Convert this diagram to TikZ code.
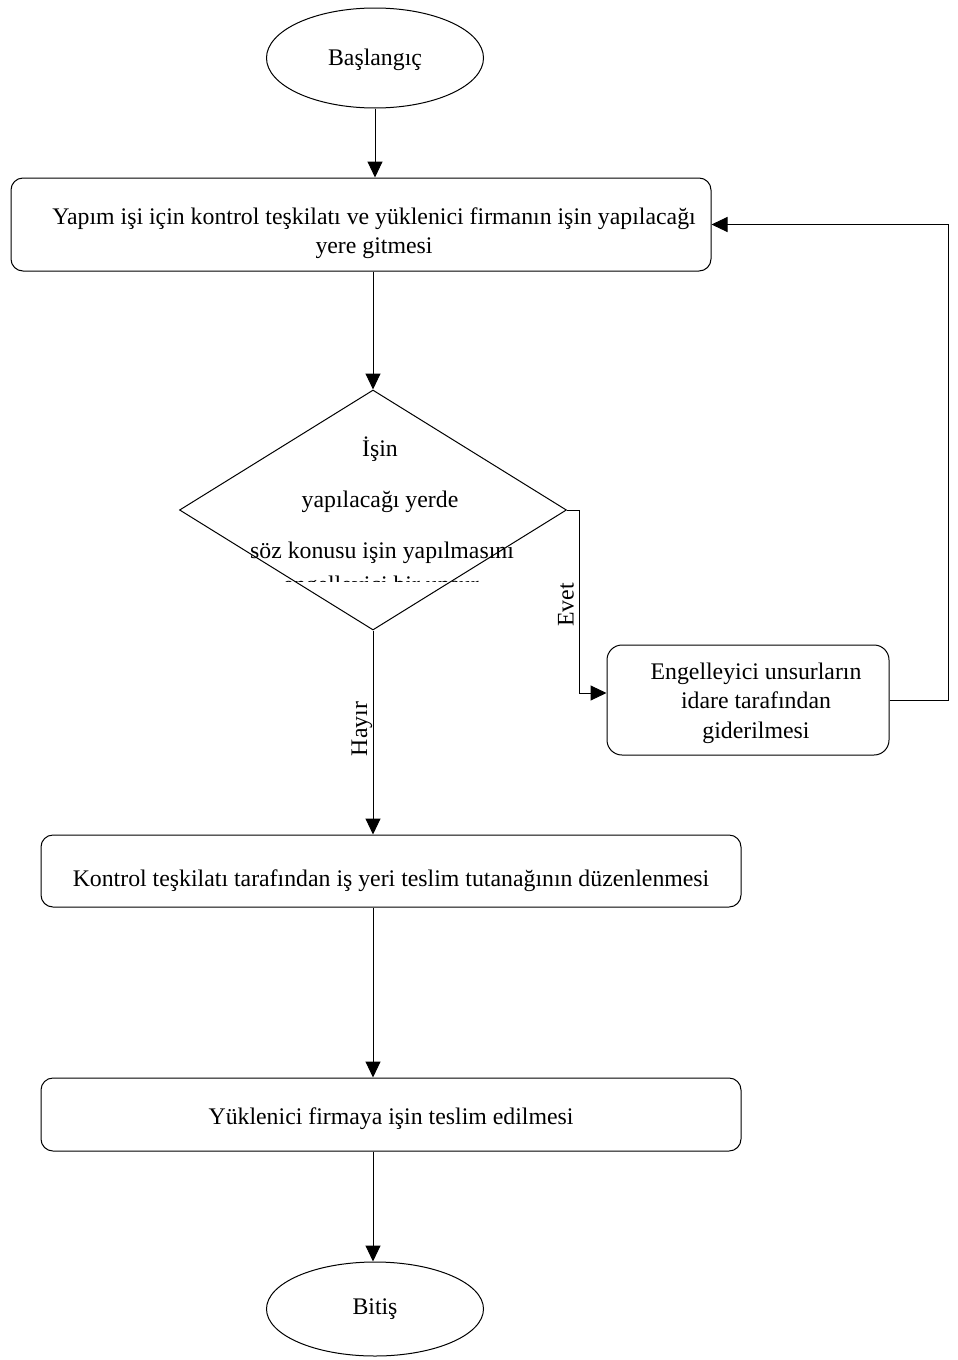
\documentclass[tikz,border=0pt]{standalone}
\usepackage{fontspec}
\setmainfont{Liberation Serif}
\usetikzlibrary{arrows.meta,shapes.geometric}

% metni kutu içinde biraz aşağı kaydırmak için
\newcommand{\asagi}[2]{\raisebox{-#1}[\height][\depth]{\begin{tabular}{@{}c@{}}#2\end{tabular}}}

\tikzset{
  akis/.style={draw, line width=1pt, -{Triangle[length=16pt,width=15pt]}},
  kutu/.style={draw, line width=1pt, rounded corners=12pt, inner sep=0pt},
  uc/.style={draw, ellipse, line width=1pt, minimum width=217pt, inner sep=0pt},
  karar/.style={draw, diamond, line width=1pt, minimum width=387pt, minimum height=240pt, inner sep=0pt},
  yazi/.style={inner sep=0pt}
}

\begin{document}
\begin{tikzpicture}[x=1pt, y=-1pt, font=\fontsize{23.8}{28.5}\selectfont]
	\useasboundingbox (0,0) rectangle (958,1360);

	% başlangıç ve ilk adım
	\node[uc, minimum height=100pt] (bas) at (375,58) {\asagi{2pt}{Başlangıç}};
	\node[kutu, minimum width=700pt, minimum height=93pt] (gitme) at (361,224.5)
		{\hspace*{26pt}\asagi{9pt}{Yapım işi için kontrol teşkilatı ve yüklenici firmanın işin yapılacağı\\yere gitmesi}};

	% karar
	\node[karar] (soru) at (373,510) {};
	\node[yazi] (s1) at (380,449) {İşin};
	\node[yazi] (s2) at (380,502) {yapılacağı yerde};
	\node[yazi] (s3) at (382,553) {söz konusu işin yapılmasını};
	\begin{scope}
		\clip (230,561) rectangle (540,581.5);
		\node[yazi, anchor=base] (s4) at (381,592) {engelleyici bir unsur};
	\end{scope}

	% yan dal
	\node[kutu, rounded corners=15pt, minimum width=282pt, minimum height=110pt, font=\fontsize{23.8}{29.5}\selectfont] (gider) at (748,700)
		{\hspace*{16pt}\asagi{3pt}{Engelleyici unsurların\\idare tarafından\\giderilmesi}};

	% alt adımlar
	\node[kutu, minimum width=700pt, minimum height=72pt] (tutanak) at (391,871)
		{\asagi{10pt}{Kontrol teşkilatı tarafından iş yeri teslim tutanağının düzenlenmesi}};
	\node[kutu, minimum width=700pt, minimum height=73pt] (teslim) at (391,1114.5)
		{\asagi{4pt}{Yüklenici firmaya işin teslim edilmesi}};
	\node[uc, minimum height=94pt] (bitis) at (375,1309) {Bitiş};

	% oklar
	\draw[akis] (bas.south) -- (bas.south |- gitme.north);
	\draw[akis] (gitme.south -| soru.north) -- (soru.north);
	\draw[akis] (soru.east) -- ++(12,0) |- ([yshift=7pt]gider.west);
	\draw[akis] (gider.east) -- ++(59,0) |- (gitme.east);
	\draw[akis] (soru.south) -- (soru.south |- tutanak.north);
	\draw[akis] (tutanak.south -| soru.south) -- (soru.south |- teslim.north);
	\draw[akis] (teslim.south -| soru.south) -- (soru.south |- bitis.north);

	% etiketler
	\node[yazi, rotate=90] (evet) at (566,605) {Evet};
	\node[yazi, rotate=90] (hayir) at (362,729) {Hayır};
\end{tikzpicture}
\end{document}
